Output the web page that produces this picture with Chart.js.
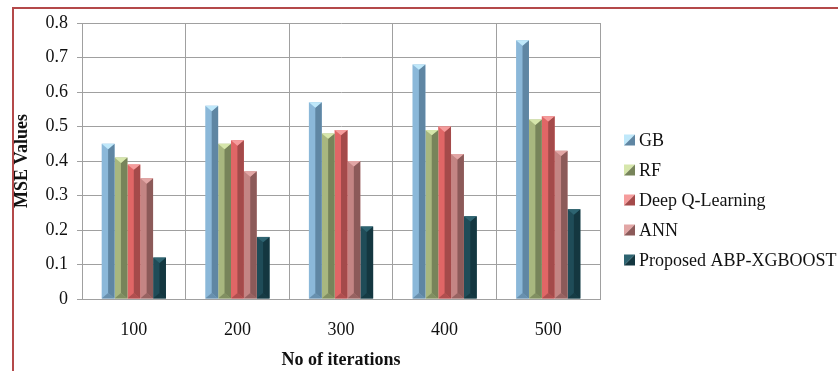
<!DOCTYPE html>
<html>
<head>
<meta charset="utf-8">
<script src="https://cdn.jsdelivr.net/npm/chart.js@4.4.1/dist/chart.umd.min.js"></script>
<style>
  html, body { margin: 0; padding: 0; background: #fff; overflow: hidden; }
  #wrap { position: relative; width: 838px; height: 371px; }
  #frame {
    position: absolute; left: 12px; top: 7px; width: 900px; height: 400px;
    border-left: 2px solid #b4494a; border-top: 2px solid #b4494a;
    pointer-events: none;
  }
</style>
</head>
<body>
<div id="wrap">
  <canvas id="mse_chart" width="838" height="371"></canvas>
  <div id="frame"></div>
</div>
<script>
const iterations = ["100", "200", "300", "400", "500"];
const series_names = ["GB", "RF", "Deep Q-Learning", "ANN", "Proposed ABP-XGBOOST"];
const gb_mse = [0.45, 0.56, 0.57, 0.68, 0.75];
const rf_mse = [0.41, 0.45, 0.48, 0.49, 0.52];
const dql_mse = [0.39, 0.46, 0.49, 0.50, 0.53];
const ann_mse = [0.35, 0.37, 0.40, 0.42, 0.43];
const xgb_mse = [0.12, 0.18, 0.21, 0.24, 0.26];
const y_ticks = [0, 0.1, 0.2, 0.3, 0.4, 0.5, 0.6, 0.7, 0.8];

// face colours for the bevelled bars: front, shaded side, top cap
const front = ["#8bb8d9", "#a8b77f", "#e06666", "#c48584", "#1f4c58"];
const side = ["#5f86a3", "#77845a", "#a44a4a", "#8c5a59", "#143740"];
const cap = ["#bfe8fa", "#d6e6ab", "#f59c9c", "#e2a6a5", "#2e6471"];

const serif = '"Liberation Serif", "Times New Roman", serif';

const all_values = [gb_mse, rf_mse, dql_mse, ann_mse, xgb_mse];

const mse_datasets = all_values.map((vals, i) => ({
  label: series_names[i],
  data: vals,
  backgroundColor: front[i],
  borderWidth: 0,
  barPercentage: 1,
  categoryPercentage: 0.62,
}));

// paints the shaded half, top cap and foot of every bar
const bevel_plugin = {
  id: "bevel",
  afterDatasetsDraw(chart) {
    const ctx = chart.ctx;
    chart.data.datasets.forEach((ds, i) => {
      chart.getDatasetMeta(i).data.forEach((bar) => {
        const { x, y, base, width } = bar.getProps(["x", "y", "base", "width"], true);
        const l = x - width / 2;
        const r = x + width / 2;
        const tip = width * 0.42;
        ctx.save();
        ctx.fillStyle = side[i];
        ctx.beginPath();
        ctx.moveTo(x, y + tip);
        ctx.lineTo(r, y);
        ctx.lineTo(r, base);
        ctx.lineTo(x, base - tip);
        ctx.closePath();
        ctx.fill();
        ctx.fillStyle = cap[i];
        ctx.beginPath();
        ctx.moveTo(l, y);
        ctx.lineTo(r, y);
        ctx.lineTo(x, y + tip);
        ctx.closePath();
        ctx.fill();
        ctx.fillStyle = side[i];
        ctx.globalAlpha = 0.8;
        ctx.beginPath();
        ctx.moveTo(l, base);
        ctx.lineTo(r, base);
        ctx.lineTo(x, base - tip);
        ctx.closePath();
        ctx.fill();
        ctx.restore();
      });
    });
  },
};

// legend on the right with small split swatches
const legend_plugin = {
  id: "side_legend",
  afterDraw(chart) {
    const ctx = chart.ctx;
    const x0 = chart.chartArea.right + 24;
    let y0 = chart.chartArea.top + 117;
    ctx.save();
    ctx.font = "18px " + serif;
    ctx.textBaseline = "middle";
    chart.data.datasets.forEach((ds, i) => {
      const s = 11;
      const top = y0 - s / 2;
      ctx.fillStyle = cap[i];
      ctx.beginPath();
      ctx.moveTo(x0, top);
      ctx.lineTo(x0 + s, top);
      ctx.lineTo(x0, top + s);
      ctx.closePath();
      ctx.fill();
      ctx.fillStyle = side[i];
      ctx.beginPath();
      ctx.moveTo(x0 + s, top);
      ctx.lineTo(x0 + s, top + s);
      ctx.lineTo(x0, top + s);
      ctx.closePath();
      ctx.fill();
      ctx.fillStyle = "#111";
      ctx.fillText(ds.label, x0 + 15, y0 + 1);
      y0 += 30;
    });
    ctx.restore();
  },
};

const mse_chart = new Chart(document.getElementById("mse_chart"), {
  type: "bar",
  data: { labels: iterations, datasets: mse_datasets },
  plugins: [bevel_plugin, legend_plugin],
  options: {
    responsive: false,
    animation: false,
    devicePixelRatio: 1,
    layout: { padding: { top: 23, right: 238, left: 0, bottom: 0 } },
    plugins: { legend: { display: false }, tooltip: { enabled: false } },
    scales: {
      x: {
        grid: { color: "#a0a0a0", lineWidth: 1, offset: true, tickLength: 0 },
        border: { color: "#a0a0a0" },
        ticks: { color: "#111", font: { family: serif, size: 18 }, padding: 20 },
        title: {
          display: true, text: "No of iterations", color: "#111",
          font: { family: serif, size: 18, weight: "bold" }, padding: { top: 0, bottom: 0 },
        },
        afterFit(scale) { scale.height = 72; },
      },
      y: {
        min: 0,
        max: 0.8,
        afterBuildTicks(scale) { scale.ticks = y_ticks.map((v) => ({ value: v })); },
        grid: { color: "#a0a0a0", lineWidth: 1, tickLength: 5 },
        border: { color: "#a0a0a0" },
        ticks: { color: "#111", font: { family: serif, size: 18 }, padding: 9 },
        title: {
          display: true, text: "MSE Values", color: "#111",
          font: { family: serif, size: 18, weight: "bold" }, padding: { top: 12, bottom: 0 },
        },
        afterFit(scale) { scale.width = 82; },
      },
    },
  },
});
</script>
</body>
</html>
